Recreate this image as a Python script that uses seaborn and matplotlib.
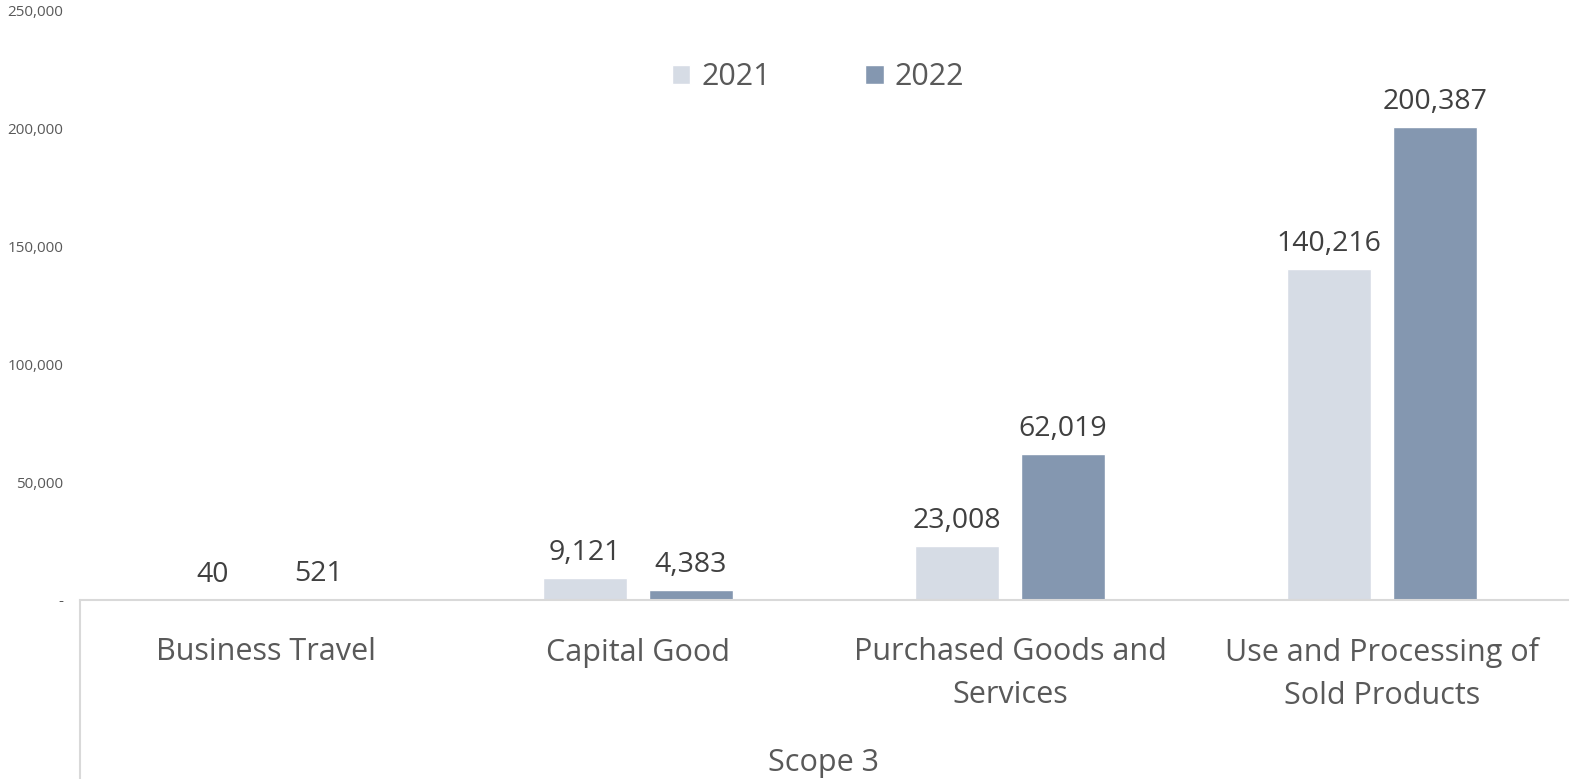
import matplotlib
matplotlib.use("Agg")
import matplotlib.pyplot as plt
import matplotlib.ticker as mticker
import seaborn as sns
import pandas as pd

categories = ["Business Travel", "Capital Good", "Purchased Goods and\nServices", "Use and Processing of\nSold Products"]
values_2021 = [40, 9121, 23008, 140216]
values_2022 = [521, 4383, 62019, 200387]
years = ["2021", "2022"]
y_ticks = [0, 50000, 100000, 150000, 200000, 250000]
group_label = "Scope 3"

colors = {"2021": "#D6DCE5", "2022": "#8497B0"}
text_color = "#595959"

df = pd.DataFrame({
    "category": categories * 2,
    "year": [years[0]] * len(categories) + [years[1]] * len(categories),
    "value": values_2021 + values_2022,
})

sns.set_theme(style="white")
plt.rcParams["font.family"] = ["Open Sans", "DejaVu Sans"]

fig = plt.figure(figsize=(15.79, 7.79), dpi=100)
ax = fig.add_axes([80 / 1579, 179 / 779, (1568 - 80) / 1579, (600 - 10) / 779])

sns.barplot(data=df, x="category", y="value", hue="year", order=categories,
            hue_order=years, palette=colors, width=0.57, gap=0.2,
            saturation=1, ax=ax, errorbar=None)

ax.set_ylim(0, 250000)
ax.set_xlim(-0.5, len(categories) - 0.5)
ax.set_yticks(y_ticks)
ax.yaxis.set_major_formatter(mticker.FuncFormatter(lambda v, p: "-" if v == 0 else f"{int(v):,}"))
ax.tick_params(axis="y", length=0, pad=12, labelsize=11, labelcolor=text_color)
ax.tick_params(axis="x", length=0, pad=27, labelsize=22, labelcolor=text_color)
for lab in ax.get_xticklabels():
    lab.set_linespacing(1.55)

for s in ["top", "right", "left"]:
    ax.spines[s].set_visible(False)
ax.spines["bottom"].set_color("#D9D9D9")
ax.spines["bottom"].set_linewidth(1.5)

# vertical grouping line of the category axis
ax.plot([0, 0], [0, -179 / 590], transform=ax.transAxes, color="#D9D9D9",
        lw=1.5, clip_on=False)

for cont in ax.containers:
    ax.bar_label(cont, labels=[f"{v:,.0f}" for v in cont.datavalues],
                 padding=8, fontsize=20.5, color="#404040")

ax.set_xlabel(group_label, fontsize=22, color=text_color)
ax.xaxis.set_label_coords(0.5, (600 - 763) / 590)
ax.xaxis.label.set_va("center")
ax.set_ylabel("")

handles, labels = ax.get_legend_handles_labels()
ax.legend(handles, labels, loc="center", bbox_to_anchor=((818 - 80) / 1488, 1 - (77 - 10) / 590),
          ncol=2, frameon=False, fontsize=22, labelcolor=text_color,
          handlelength=0.6, handleheight=0.6, handletextpad=0.35, columnspacing=3.1)

fig.savefig("out.png", dpi=100)
